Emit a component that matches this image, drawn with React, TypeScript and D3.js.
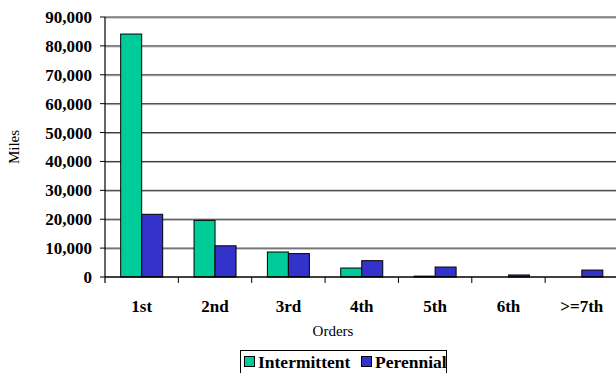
import React from "react";
import * as d3 from "d3";

const categories = ["1st", "2nd", "3rd", "4th", "5th", "6th", ">=7th"];
const intermittent = [84100, 19600, 8650, 3100, 300, 0, 0];
const perennial = [21700, 10800, 8100, 5650, 3450, 700, 2400];
const seriesNames = ["Intermittent", "Perennial"];
const seriesColors = ["#00CC99", "#3333CC"];
const yTicks = [0, 10000, 20000, 30000, 40000, 50000, 60000, 70000, 80000, 90000];

const W = 616;
const H = 373;
const left = 105;
const right = 618.5;
const top = 17;
const bottom = 277;

const font = '"Liberation Serif", "Times New Roman", Times, serif';

export default function App() {
  const x = d3.scaleBand<string>().domain(categories).range([left, right]);
  const y = d3.scaleLinear().domain([0, 90000]).range([bottom, top]);
  const barW = 21;
  const fmt = d3.format(",");
  const series = [intermittent, perennial];
  const txt = { fontFamily: font };

  return (
    <svg
      width={W}
      height={H}
      style={{ position: "absolute", left: 0, top: 0, background: "#fff", fontFamily: font }}
    >
      {/* grid lines */}
      {yTicks.filter((t) => t > 0).map((t) => (
        <g key={`g${t}`}>
          <line x1={left} x2={W} y1={y(t) + 1} y2={y(t) + 1} stroke="#a8a8a8" strokeWidth={1} />
          <line x1={left} x2={W} y1={y(t)} y2={y(t)} stroke="#333" strokeWidth={1} />
        </g>
      ))}

      {/* bars */}
      {categories.map((c, i) => {
        const cx = (x(c) as number) + x.bandwidth() / 2;
        return series.map((vals, s) => {
          const v = vals[i];
          const bx = cx - barW + s * barW;
          const by = y(v);
          return (
            <rect
              key={`${c}-${s}`}
              x={bx}
              y={by}
              width={barW}
              height={Math.max(0, bottom - by)}
              fill={seriesColors[s]}
              stroke="#000"
              strokeWidth={1}
            />
          );
        });
      })}

      {/* y axis */}
      <line x1={left} x2={left} y1={top} y2={bottom + 6} stroke="#000" strokeWidth={1.2} />
      {yTicks.map((t) => (
        <g key={`y${t}`}>
          <line x1={left - 5} x2={left} y1={y(t)} y2={y(t)} stroke="#000" strokeWidth={1} />
          <text
            x={92}
            y={y(t) + 6}
            textAnchor="end"
            fontSize={17}
            fontWeight="bold"
            fill="#000"
            style={txt}
          >
            {fmt(t)}
          </text>
        </g>
      ))}

      {/* x axis */}
      <line x1={left} x2={W} y1={bottom} y2={bottom} stroke="#000" strokeWidth={1.5} />
      {categories.map((c, i) => {
        const bx = x(c) as number;
        return (
          <g key={`x${c}`}>
            {i > 0 && (
              <line x1={bx} x2={bx} y1={bottom} y2={bottom + 6} stroke="#000" strokeWidth={1} />
            )}
            <text
              x={bx + x.bandwidth() / 2}
              y={312}
              textAnchor="middle"
              fontSize={17}
              fontWeight="bold"
              fill="#000"
              style={txt}
            >
              {c}
            </text>
          </g>
        );
      })}

      {/* axis titles */}
      <text x={333} y={336} textAnchor="middle" fontSize={15} fill="#000" style={txt}>
        Orders
      </text>
      <text
        transform="translate(19,147) rotate(-90)"
        textAnchor="middle"
        fontSize={15}
        fill="#000"
        style={txt}
      >
        Miles
      </text>

      {/* legend */}
      <rect x={240.5} y={350.5} width={206} height={30} fill="#fff" stroke="#000" strokeWidth={1} />
      {seriesNames.map((n, s) => {
        const lx = s === 0 ? 244 : 361;
        return (
          <g key={n}>
            <rect x={lx + 0.5} y={356.5} width={10} height={10} fill={seriesColors[s]} stroke="#000" strokeWidth={1} />
            <text x={lx + 14} y={368} fontSize={17.5} fontWeight="bold" fill="#000" style={txt}>
              {n}
            </text>
          </g>
        );
      })}
    </svg>
  );
}
